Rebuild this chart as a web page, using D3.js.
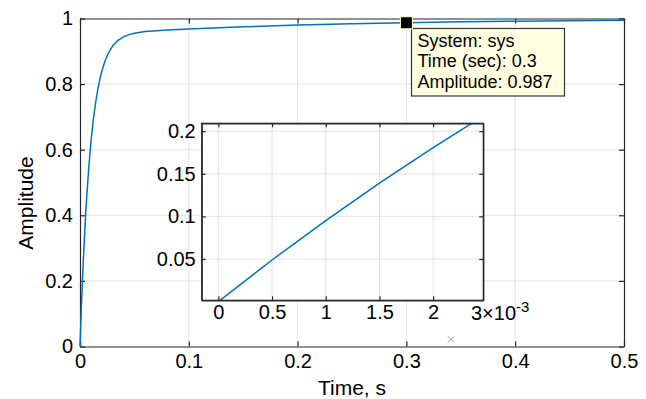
<!DOCTYPE html>
<html>
<head>
<meta charset="utf-8">
<script src="https://cdn.jsdelivr.net/npm/d3@7"></script>
<style>
  body { margin: 0; background: #fff; }
  svg { display: block; font-family: "Liberation Sans", Arial, Helvetica, sans-serif; }
</style>
</head>
<body>
<svg id="chart" width="646" height="399"></svg>
<script>
// Step response samples: time (s) and amplitude
const timeS = [0, 0.0005, 0.001, 0.0015, 0.002, 0.0025, 0.003, 0.004, 0.005, 0.006, 0.008,
  0.010, 0.012, 0.014, 0.016, 0.018, 0.020, 0.023, 0.026, 0.030, 0.035, 0.040, 0.045,
  0.050, 0.060, 0.070, 0.080, 0.10, 0.15, 0.20, 0.25, 0.30, 0.35, 0.40, 0.45, 0.50];
const amplitude = [0, 0.0488, 0.0951, 0.1391, 0.1808, 0.2204, 0.2579, 0.3273, 0.3899, 0.4462, 0.5425,
  0.6207, 0.6840, 0.7354, 0.7772, 0.8111, 0.8386, 0.8706, 0.8941, 0.9160, 0.9335, 0.9442, 0.9509,
  0.9553, 0.9602, 0.9630, 0.9650, 0.9683, 0.9747, 0.9799, 0.9840, 0.9872, 0.9898, 0.9919, 0.9935, 0.9949];

// Main axes ticks
const xTicks = [0, 0.1, 0.2, 0.3, 0.4, 0.5];
const yTicks = [0, 0.2, 0.4, 0.6, 0.8, 1];

// Inset (zoom on the start of the response)
const insetXTicks = [0, 0.0005, 0.001, 0.0015, 0.002];
const insetXTickLabels = ["0", "0.5", "1", "1.5", "2"];
const insetYTicks = [0.05, 0.1, 0.15, 0.2];
const insetYTickLabels = ["0.05", "0.1", "0.15", "0.2"];

// Data tip
const tipTime = 0.3;
const tipAmp = 0.987;
const tipLines = ["System: sys", "Time (sec): 0.3", "Amplitude: 0.987"];

// Small stray cross marker
const crossMark = { t: 0.341, amp: 0.022 };

const svg = d3.select("#chart");
const AX = "#262626", GRID = "#e3e3e3", LINE = "#0072bd";
const TICK_FS = 20, LABEL_FS = 21;

// ---------- main axes ----------
const x = d3.scaleLinear().domain([0, 0.5]).range([80, 624]);
const y = d3.scaleLinear().domain([0, 1]).range([346.5, 18.5]);

const main = svg.append("g");
main.append("rect").attr("x", x(0)).attr("y", y(1))
  .attr("width", x(0.5) - x(0)).attr("height", y(0) - y(1)).attr("fill", "#fff");

// grid
main.append("g").selectAll("line").data(xTicks.slice(1, -1)).join("line")
  .attr("x1", d => x(d)).attr("x2", d => x(d)).attr("y1", y(0)).attr("y2", y(1))
  .attr("stroke", GRID).attr("stroke-width", 1);
main.append("g").selectAll("line").data(yTicks.slice(1, -1)).join("line")
  .attr("y1", d => y(d)).attr("y2", d => y(d)).attr("x1", x(0)).attr("x2", x(0.5))
  .attr("stroke", GRID).attr("stroke-width", 1);

function styleAxis(g, fontSize) {
  g.select(".domain").attr("stroke", AX).attr("stroke-width", 1.2);
  g.selectAll(".tick line").attr("stroke", AX).attr("stroke-width", 1.2);
  g.selectAll(".tick text").attr("fill", "#000").attr("font-size", fontSize);
  g.attr("font-family", null);
}

main.append("g").attr("transform", `translate(0,${y(0)})`)
  .call(d3.axisBottom(x).tickValues(xTicks).tickFormat(d => String(d))
    .tickSizeInner(-5).tickSizeOuter(0).tickPadding(7.6))
  .call(g => styleAxis(g, TICK_FS));
main.append("g").attr("transform", `translate(0,${y(1)})`)
  .call(d3.axisTop(x).tickValues(xTicks).tickFormat("")
    .tickSizeInner(-5).tickSizeOuter(0))
  .call(g => styleAxis(g, TICK_FS));
main.append("g").attr("transform", `translate(${x(0)},0)`)
  .call(d3.axisLeft(y).tickValues(yTicks).tickFormat(d => String(d))
    .tickSizeInner(-5).tickSizeOuter(0).tickPadding(7))
  .call(g => styleAxis(g, TICK_FS));
main.append("g").attr("transform", `translate(${x(0.5)},0)`)
  .call(d3.axisRight(y).tickValues(yTicks).tickFormat("")
    .tickSizeInner(-5).tickSizeOuter(0))
  .call(g => styleAxis(g, TICK_FS));

// response curve
const pts = timeS.map((t, i) => [t, amplitude[i]]);
main.append("path").datum(pts)
  .attr("fill", "none").attr("stroke", LINE).attr("stroke-width", 1.5)
  .attr("d", d3.line().x(d => x(d[0])).y(d => y(d[1])));

// axis labels
svg.append("text").attr("x", (x(0) + x(0.5)) / 2).attr("y", 394.5)
  .attr("text-anchor", "middle").attr("font-size", LABEL_FS).text("Time, s");
svg.append("text").attr("transform", "translate(33,203) rotate(-90)")
  .attr("text-anchor", "middle").attr("font-size", LABEL_FS).text("Amplitude");

// stray cross
const cx = x(crossMark.t), cy = y(crossMark.amp);
svg.append("path").attr("d", `M${cx - 3},${cy - 3}L${cx + 3},${cy + 3}M${cx - 3},${cy + 3}L${cx + 3},${cy - 3}`)
  .attr("stroke", "#999").attr("stroke-width", 1);

// ---------- inset axes ----------
const xi = d3.scaleLinear().domain([-0.000155, 0.002467]).range([201.7, 483.3]);
const yi = d3.scaleLinear().domain([0.0015, 0.2093]).range([300.3, 123.3]);
const [ix0, ix1] = xi.range(), [iy0, iy1] = yi.range();

const inset = svg.append("g");
inset.append("rect").attr("x", ix0).attr("y", iy1)
  .attr("width", ix1 - ix0).attr("height", iy0 - iy1).attr("fill", "#fff");

inset.append("g").selectAll("line").data(insetXTicks).join("line")
  .attr("x1", d => xi(d)).attr("x2", d => xi(d)).attr("y1", iy0).attr("y2", iy1)
  .attr("stroke", GRID).attr("stroke-width", 1);
inset.append("g").selectAll("line").data(insetYTicks).join("line")
  .attr("y1", d => yi(d)).attr("y2", d => yi(d)).attr("x1", ix0).attr("x2", ix1)
  .attr("stroke", GRID).attr("stroke-width", 1);

svg.append("clipPath").attr("id", "insetClip").append("rect")
  .attr("x", ix0).attr("y", iy1).attr("width", ix1 - ix0).attr("height", iy0 - iy1);
inset.append("path").datum(pts).attr("clip-path", "url(#insetClip)")
  .attr("fill", "none").attr("stroke", LINE).attr("stroke-width", 1.5)
  .attr("d", d3.line().x(d => xi(d[0])).y(d => yi(d[1])));

inset.append("g").attr("transform", `translate(0,${iy0})`)
  .call(d3.axisBottom(xi).tickValues(insetXTicks).tickFormat((d, i) => insetXTickLabels[i])
    .tickSizeInner(-4).tickSizeOuter(0).tickPadding(5))
  .call(g => styleAxis(g, TICK_FS));
inset.append("g").attr("transform", `translate(0,${iy1})`)
  .call(d3.axisTop(xi).tickValues(insetXTicks).tickFormat("")
    .tickSizeInner(-4).tickSizeOuter(0))
  .call(g => styleAxis(g, TICK_FS));
inset.append("g").attr("transform", `translate(${ix0},0)`)
  .call(d3.axisLeft(yi).tickValues(insetYTicks).tickFormat((d, i) => insetYTickLabels[i])
    .tickSizeInner(-4).tickSizeOuter(0).tickPadding(6))
  .call(g => styleAxis(g, TICK_FS));
inset.append("g").attr("transform", `translate(${ix1},0)`)
  .call(d3.axisRight(yi).tickValues(insetYTicks).tickFormat("")
    .tickSizeInner(-4).tickSizeOuter(0))
  .call(g => styleAxis(g, TICK_FS));
// frame
inset.append("rect").attr("x", ix0).attr("y", iy1)
  .attr("width", ix1 - ix0).attr("height", iy0 - iy1)
  .attr("fill", "none").attr("stroke", AX).attr("stroke-width", 1.2);

// exponent label
const expo = inset.append("text").attr("x", 471).attr("y", 319.5).attr("font-size", TICK_FS).attr("fill", "#000");
expo.append("tspan").text("3×10");
expo.append("tspan").attr("dy", -8).attr("font-size", 15).text("-3");

// ---------- data tip ----------
const mx = x(tipTime), my = y(tipAmp);
const tip = svg.append("g");
tip.append("rect").attr("x", 411.5).attr("y", 28.5).attr("width", 153).attr("height", 67.5)
  .attr("fill", "#ffffe1").attr("stroke", "#333").attr("stroke-width", 1.2);
tip.selectAll("text.tl").data(tipLines).join("text").attr("class", "tl")
  .attr("x", 417.5).attr("y", (d, i) => 46.5 + i * 20.5)
  .attr("font-size", 18).attr("fill", "#000").text(d => d);
tip.append("rect").attr("x", mx - 6).attr("y", my - 6).attr("width", 12).attr("height", 12)
  .attr("fill", "#000").attr("stroke", "#ffffcc").attr("stroke-width", 1);
</script>
</body>
</html>
